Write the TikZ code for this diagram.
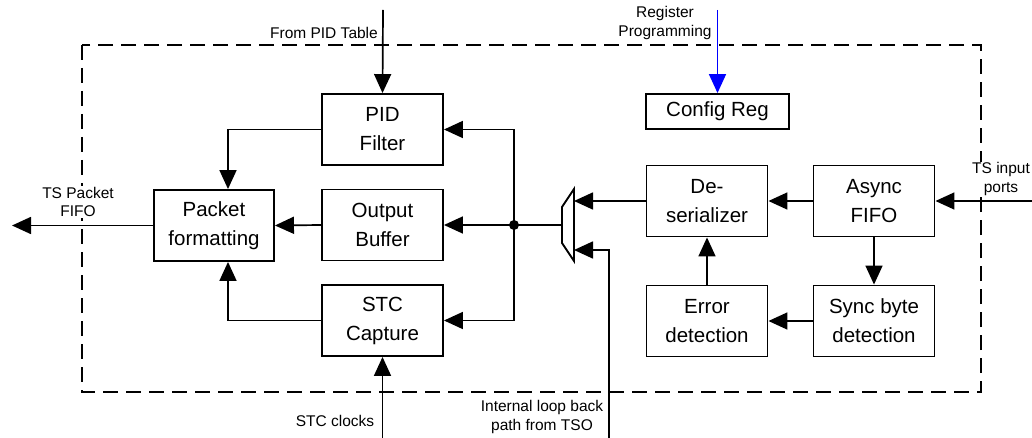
\documentclass[tikz,border=0pt]{standalone}
\usepackage{fontspec}
\setmainfont{Liberation Sans}
\usetikzlibrary{arrows.meta}
\tikzset{
  blk/.style={draw, line width=1.9pt, minimum width=121, minimum height=71, align=center, inner sep=0pt, font=\fontsize{20.5}{29}\selectfont},
  arr/.style={line width=1.7pt, -{Triangle[length=19pt,width=17pt]}},
  ln/.style={line width=1.7pt},
  lbl/.style={align=center, inner sep=0pt, font=\fontsize{15.5}{18.5}\selectfont},
  frame/.style={line width=2.8pt, dash pattern=on 15pt off 8pt}
}
\begin{document}
\begin{tikzpicture}[x=1pt,y=-1pt]
\useasboundingbox (0,0) rectangle (1032,438);
\draw[frame] (82,45) rectangle (981,392);

% blocks
\node[blk] (pid) at (382.5,129.5) {PID\\Filter};
\node[blk] (obuf) at (382.5,225) {Output\\Buffer};
\node[blk] (stc) at (382.5,320.5) {STC\\Capture};
\node[blk, minimum width=120] (pf) at (214,225.5) {Packet\\formatting};
\node[blk] (deser) at (707,201) {De-\\serializer};
\node[blk] (afifo) at (874,201) {Async\\FIFO};
\node[blk] (sync) at (874,321) {Sync byte\\detection};
\node[blk] (err) at (707,321) {Error\\detection};
\node[blk, minimum width=143, minimum height=35] (cfg) at (717.5,111.5) {Config Reg};

% mux
\coordinate (m1) at (562,207);
\coordinate (m2) at (574,189);
\coordinate (m3) at (574,261);
\coordinate (m4) at (562,243);
\draw[line width=1.9pt] (m1) -- (m2) -- (m3) -- (m4) -- cycle;
\coordinate (mout) at (562,225);
\coordinate (min2) at (574,250);
\coordinate (j) at (514,225);

% external ends
\coordinate (pidin) at (383,10);
\coordinate (regin) at (717.5,10);
\coordinate (stcin) at (382.5,438);
\coordinate (lb) at (609,438);
\coordinate (tsout) at (12,225.5);
\coordinate (tsin) at (1032,201);

% labels
\node[lbl, anchor=east] (l1) at (378,33) {From PID Table};
\node[lbl] (l2) at (665,23) {Register\\Programming};
\node[lbl, fill=white, inner sep=1pt] (l3) at (78,202) {TS Packet\\FIFO};
\node[lbl, fill=white, inner sep=1pt] (l4) at (1001,179) {TS input\\ports};
\node[lbl] (l5) at (335,421) {STC clocks};
\node[lbl] (l6) at (542,417) {Internal loop back\\path from TSO};

% connectors
\draw[arr] (pidin) -- (pid.north);
\draw[arr, blue] (regin) -- (cfg.north);
\draw[arr] (stcin) -- (stc.south);
\draw[arr] (pf.west) -- (tsout);
\draw[arr] (tsin) -- (afifo.east);

\draw[arr] (pid.west) -| ([xshift=14pt]pf.north);
\draw[arr] (obuf.west) -- (pf.east);
\draw[arr] (stc.west) -| ([xshift=14pt]pf.south);

\draw[ln] (mout) -- (j);
\fill (j) circle (5pt);
\draw[arr] (j) -- (obuf.east);
\draw[arr] (j) |- (pid.east);
\draw[arr] (j) |- (stc.east);

\draw[arr] (deser.west) -- (deser.west -| m2);
\draw[arr] (lb) |- (min2);
\draw[arr] (afifo.west) -- (deser.east);
\draw[arr] (afifo.south) -- (sync.north);
\draw[arr] (sync.west) -- (err.east);
\draw[arr] (err.north) -- (deser.south);
\end{tikzpicture}
\end{document}
